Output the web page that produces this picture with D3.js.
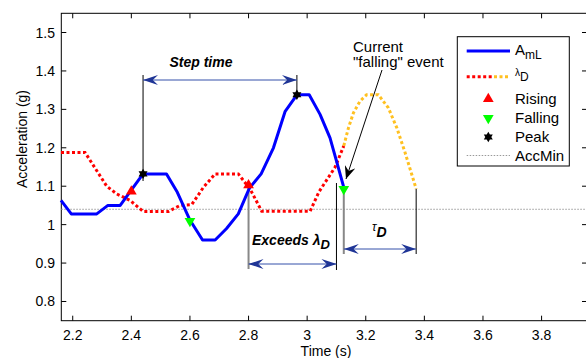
<!DOCTYPE html>
<html lang="en">
<head>
<meta charset="UTF-8">
<title>Step detection</title>
<style>
    body { margin: 0; background: #fff; }
    svg { display: block; font-family: "Liberation Sans", Arial, sans-serif; }
    .tick-label { font-size: 14px; fill: #000; }
    .axis-title { font-size: 14px; fill: #000; }
    .annot { font-size: 14px; font-weight: bold; font-style: italic; fill: #000; }
    .legend-text { font-size: 15px; fill: #000; }
</style>
</head>
<body>
<div id="chart"></div>
<script src="https://d3js.org/d3.v7.min.js"></script>
<script>
// acceleration magnitude (A_mL)
var amlT = [2.16, 2.195, 2.282, 2.32, 2.362, 2.44, 2.52, 2.557, 2.60, 2.643, 2.686, 2.725, 2.765, 2.803, 2.843, 2.885, 2.925, 2.965, 3.007, 3.044, 3.078, 3.10, 3.125];
var amlV = [1.063, 1.028, 1.028, 1.05, 1.05, 1.132, 1.132, 1.084, 1.012, 0.96, 0.96, 0.99, 1.028, 1.095, 1.132, 1.20, 1.295, 1.338, 1.338, 1.287, 1.226, 1.166, 1.097];
// dynamic threshold lambda_D (past part, red)
var lamT = [2.16, 2.242, 2.316, 2.35, 2.396, 2.441, 2.526, 2.566, 2.606, 2.646, 2.686, 2.765, 2.805, 2.845, 3.01, 3.04, 3.07, 3.095, 3.125];
var lamV = [1.188, 1.188, 1.10, 1.08, 1.063, 1.034, 1.034, 1.05, 1.052, 1.097, 1.132, 1.132, 1.093, 1.035, 1.035, 1.085, 1.12, 1.149, 1.205];
// lambda_D future part (orange)
var futT = [3.125, 3.141, 3.158, 3.18, 3.203, 3.243, 3.277, 3.306, 3.334, 3.372];
var futV = [1.205, 1.252, 1.291, 1.321, 1.338, 1.338, 1.304, 1.252, 1.188, 1.093];
// events
var risingT = [2.40, 2.80], risingV = [1.084, 1.10];
var fallingT = [2.60, 3.125], fallingV = [1.012, 1.095];
var peakT = [2.44, 2.965], peakV = [1.132, 1.338];
var accMin = 1.04;

var xTicks = [2.2, 2.4, 2.6, 2.8, 3.0, 3.2, 3.4, 3.6, 3.8];
var xTickLabels = ["2.2", "2.4", "2.6", "2.8", "3", "3.2", "3.4", "3.6", "3.8"];
var yTicks = [0.8, 0.9, 1.0, 1.1, 1.2, 1.3, 1.4, 1.5];
var yTickLabels = ["0.8", "0.9", "1", "1.1", "1.2", "1.3", "1.4", "1.5"];

var W = 586, H = 358;
var x = d3.scaleLinear().domain([2.161, 3.955]).range([61.3, 587]);
var y = d3.scaleLinear().domain([0.75, 1.55]).range([320.7, 13.3]);

var svg = d3.select("#chart").append("svg").attr("width", W).attr("height", H);

var defs = svg.append("defs");
function arrowMarker(id, color, len, half) {
    defs.append("marker")
        .attr("id", id)
        .attr("markerUnits", "userSpaceOnUse")
        .attr("viewBox", (-len) + " " + (-half) + " " + len + " " + (2 * half))
        .attr("refX", 0).attr("refY", 0)
        .attr("markerWidth", len).attr("markerHeight", 2 * half)
        .attr("orient", "auto-start-reverse")
        .append("path")
        .attr("d", "M0,0 L" + (-len) + "," + (-half) + " L" + (-len * 0.65) + ",0 L" + (-len) + "," + half + " Z")
        .attr("fill", color);
}
arrowMarker("blueHead", "#1f3596", 15, 5);
arrowMarker("blackHead", "#000", 13, 5.5);

var yTop = y.range()[1], yBot = y.range()[0], xLeft = x.range()[0], xRight = x.range()[1];

// axes box
svg.append("rect")
    .attr("x", xLeft).attr("y", yTop)
    .attr("width", xRight - xLeft).attr("height", yBot - yTop)
    .attr("fill", "none").attr("stroke", "#000").attr("stroke-width", 1);

var ticks = svg.append("g").attr("stroke", "#000").attr("stroke-width", 1);
xTicks.forEach(function(t) {
    ticks.append("line").attr("x1", x(t)).attr("x2", x(t)).attr("y1", yBot).attr("y2", yBot - 5);
    ticks.append("line").attr("x1", x(t)).attr("x2", x(t)).attr("y1", yTop).attr("y2", yTop + 5);
});
yTicks.forEach(function(v) {
    ticks.append("line").attr("x1", xLeft).attr("x2", xLeft + 5).attr("y1", y(v)).attr("y2", y(v));
    ticks.append("line").attr("x1", xRight).attr("x2", xRight - 5).attr("y1", y(v)).attr("y2", y(v));
});

svg.selectAll(".xlab").data(xTicks).enter().append("text")
    .attr("class", "tick-label")
    .attr("x", function(d) { return x(d); })
    .attr("y", 339.5)
    .attr("text-anchor", "middle")
    .text(function(d, i) { return xTickLabels[i]; });

svg.selectAll(".ylab").data(yTicks).enter().append("text")
    .attr("class", "tick-label")
    .attr("x", 55)
    .attr("y", function(d) { return y(d) + 5; })
    .attr("text-anchor", "end")
    .text(function(d, i) { return yTickLabels[i]; });

svg.append("text").attr("class", "axis-title")
    .attr("x", 326).attr("y", 356).attr("text-anchor", "middle")
    .text("Time (s)");
svg.append("text").attr("class", "axis-title")
    .attr("transform", "translate(27,139) rotate(-90)")
    .attr("text-anchor", "middle")
    .text("Acceleration (g)");

// AccMin line
svg.append("line")
    .attr("x1", xLeft).attr("x2", xRight)
    .attr("y1", y(accMin)).attr("y2", y(accMin))
    .attr("stroke", "#999").attr("stroke-width", 1).attr("stroke-dasharray", "1.5,1.5");

var line = d3.line().x(function(d) { return x(d[0]); }).y(function(d) { return y(d[1]); });
function zip(a, b) { return a.map(function(t, i) { return [t, b[i]]; }); }

svg.append("path").datum(zip(lamT, lamV)).attr("d", line)
    .attr("fill", "none").attr("stroke", "#ff0000").attr("stroke-width", 3).attr("stroke-dasharray", "3,2.5");
svg.append("path").datum(zip(futT, futV)).attr("d", line)
    .attr("fill", "none").attr("stroke", "#ffc020").attr("stroke-width", 3).attr("stroke-dasharray", "3,2.5");

// annotation guides (vertical lines)
function vline(t, y1, y2, color, w) {
    svg.append("line").attr("x1", x(t)).attr("x2", x(t)).attr("y1", y1).attr("y2", y2)
        .attr("stroke", color).attr("stroke-width", w);
}
vline(peakT[0], 75, 181, "#000", 1);
vline(peakT[1], 75, y(peakV[1]), "#000", 1);
vline(risingT[1], y(risingV[1]), 269, "#888", 2);
vline(3.10, 183, 270, "#000", 1);
vline(fallingT[1], y(fallingV[1]), 254, "#888", 2);
vline(futT[futT.length - 1], y(futV[futV.length - 1]), 254, "#000", 1);

svg.append("path").datum(zip(amlT, amlV)).attr("d", line)
    .attr("fill", "none").attr("stroke", "#0000ff").attr("stroke-width", 3).attr("stroke-linejoin", "round");

// double arrows
function darrow(t1, t2, yy) {
    svg.append("line").attr("x1", x(t1)).attr("x2", x(t2)).attr("y1", yy).attr("y2", yy)
        .attr("stroke", "#3550aa").attr("stroke-width", 1)
        .attr("marker-start", "url(#blueHead)").attr("marker-end", "url(#blueHead)");
}
darrow(peakT[0], peakT[1], 80);
darrow(risingT[1], 3.10, 264);
darrow(fallingT[1], futT[futT.length - 1], 249);

// markers
var triUp = d3.symbol().type(d3.symbolTriangle).size(50);
var hexagram = {
    draw: function(ctx, size) {
        var r = Math.sqrt(size) * 0.62;
        for (var k = 0; k < 2; k++) {
            for (var j = 0; j < 3; j++) {
                var a = (k * 60 + j * 120 - 90) * Math.PI / 180;
                if (j === 0) ctx.moveTo(r * Math.cos(a), r * Math.sin(a));
                else ctx.lineTo(r * Math.cos(a), r * Math.sin(a));
            }
            ctx.closePath();
        }
    }
};
var star = d3.symbol().type(hexagram).size(70);
svg.selectAll(".rise").data(zip(risingT, risingV)).enter().append("path")
    .attr("d", triUp).attr("fill", "#ff0000")
    .attr("transform", function(d) { return "translate(" + x(d[0]) + "," + (y(d[1]) - 1) + ")"; });
svg.selectAll(".fall").data(zip(fallingT, fallingV)).enter().append("path")
    .attr("d", triUp).attr("fill", "#00ff00")
    .attr("transform", function(d) { return "translate(" + x(d[0]) + "," + (y(d[1]) + 1) + ") rotate(180)"; });
svg.selectAll(".peak").data(zip(peakT, peakV)).enter().append("path")
    .attr("d", star).attr("fill", "#000")
    .attr("transform", function(d) { return "translate(" + x(d[0]) + "," + y(d[1]) + ")"; });

// "Current falling event" pointer
svg.append("line").attr("x1", 382).attr("y1", 70).attr("x2", 346).attr("y2", 179)
    .attr("stroke", "#000").attr("stroke-width", 1).attr("marker-end", "url(#blackHead)");

// annotation texts
svg.append("text").attr("class", "annot").attr("x", 201).attr("y", 67).attr("text-anchor", "middle").text("Step time");
var ex = svg.append("text").attr("class", "annot").attr("x", 252).attr("y", 245);
ex.append("tspan").text("Exceeds \u03bb");
ex.append("tspan").attr("dy", 4).attr("font-size", "13px").text("D");
var tau = svg.append("text").attr("class", "annot").attr("x", 372).attr("y", 231);
tau.append("tspan").attr("font-weight", "normal").attr("font-size", "12px").text("\u03c4");
tau.append("tspan").attr("dy", 6).text("D");
svg.append("text").attr("class", "legend-text").attr("font-size", "13px").attr("x", 353).attr("y", 51.5).text("Current");
svg.append("text").attr("class", "legend-text").attr("font-size", "13px").attr("x", 353).attr("y", 66.5).text("\"falling\" event");

// legend
var lg = svg.append("g");
lg.append("rect").attr("x", 457.3).attr("y", 36.7).attr("width", 112).attr("height", 129.3)
    .attr("fill", "#fff").attr("stroke", "#000").attr("stroke-width", 1);
var lx1 = 466.7, lx2 = 510, tx = 515;
lg.append("line").attr("x1", lx1).attr("x2", lx2).attr("y1", 51).attr("y2", 51)
    .attr("stroke", "#0000ff").attr("stroke-width", 3);
lg.append("line").attr("x1", lx1).attr("x2", 493).attr("y1", 76.7).attr("y2", 76.7)
    .attr("stroke", "#ff0000").attr("stroke-width", 3).attr("stroke-dasharray", "3,2.5");
lg.append("line").attr("x1", 494).attr("x2", lx2).attr("y1", 76.7).attr("y2", 76.7)
    .attr("stroke", "#ffc020").attr("stroke-width", 3).attr("stroke-dasharray", "3,2.5");
lg.append("path").attr("d", triUp).attr("fill", "#ff0000").attr("transform", "translate(488.3,99)");
lg.append("path").attr("d", triUp).attr("fill", "#00ff00").attr("transform", "translate(488.3,118) rotate(180)");
lg.append("path").attr("d", star).attr("fill", "#000").attr("transform", "translate(488.3,137)");
lg.append("line").attr("x1", lx1).attr("x2", lx2).attr("y1", 155.5).attr("y2", 155.5)
    .attr("stroke", "#999").attr("stroke-width", 1).attr("stroke-dasharray", "1.5,1.5");

var t1 = lg.append("text").attr("class", "legend-text").attr("x", tx).attr("y", 55);
t1.append("tspan").text("A");
t1.append("tspan").attr("dy", 4).attr("font-size", "12px").text("mL");
var t2 = lg.append("text").attr("class", "legend-text").attr("x", tx).attr("y", 76);
t2.append("tspan").attr("font-size", "10px").text("\u03bb");
t2.append("tspan").attr("dy", 5).attr("font-size", "12px").text("D");
lg.append("text").attr("class", "legend-text").attr("x", tx).attr("y", 104).text("Rising");
lg.append("text").attr("class", "legend-text").attr("x", tx).attr("y", 123).text("Falling");
lg.append("text").attr("class", "legend-text").attr("x", tx).attr("y", 142).text("Peak");
lg.append("text").attr("class", "legend-text").attr("x", tx).attr("y", 161).text("AccMin");
</script>
</body>
</html>
